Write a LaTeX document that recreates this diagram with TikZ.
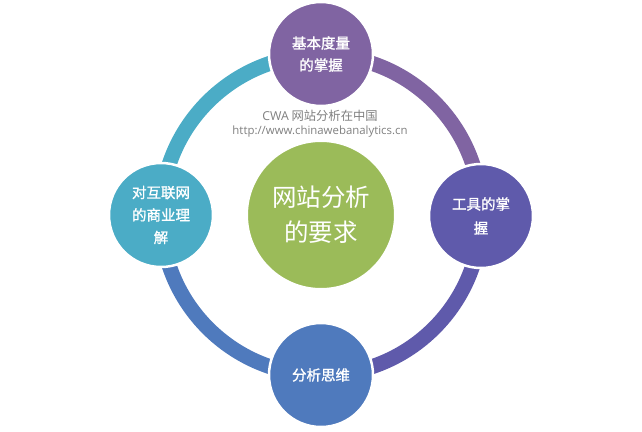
\documentclass[tikz,border=0pt]{standalone}
\usepackage{fontspec}
\setmainfont{Open Sans}
\newfontfamily\cjk{Noto Sans CJK SC}
\newfontfamily\cjkb[FakeBold=1.2]{Noto Sans CJK SC}
\definecolor{cTop}{HTML}{8064A2}
\definecolor{cRight}{HTML}{5F5AAB}
\definecolor{cBottom}{HTML}{4F7ABD}
\definecolor{cLeft}{HTML}{4BACC6}
\definecolor{cCenter}{HTML}{9BBB59}
\definecolor{cGray}{HTML}{7F7F7F}
\tikzset{
  ring/.style={line width=15pt},
  sat/.style={circle, minimum size=104pt, inner sep=0pt, draw=white, line width=2.5pt, text=white, align=center, font=\cjkb\fontsize{14.5}{22}\selectfont},
  hub/.style={circle, minimum size=148pt, inner sep=0pt, fill=cCenter, draw=white, line width=2pt, text=white, align=center, font=\cjk\fontsize{24.5}{35}\selectfont},
  note/.style={text=cGray, inner sep=0pt}
}
\begin{document}
\begin{tikzpicture}[x=1pt,y=-1pt]
\useasboundingbox (0,0) rectangle (642,431);
\coordinate (O) at (321,215);
\draw[ring, cLeft] (O) ++(180:160) arc[start angle=180, end angle=270, radius=160];
\draw[ring, cTop] (O) ++(270:160) arc[start angle=270, end angle=360, radius=160];
\draw[ring, cRight] (O) ++(0:160) arc[start angle=0, end angle=90, radius=160];
\draw[ring, cBottom] (O) ++(90:160) arc[start angle=90, end angle=180, radius=160];
\node[sat, fill=cTop] (top) at (321,54) {基本度量\\的掌握};
\node[sat, fill=cRight, font=\cjkb\fontsize{14.5}{24}\selectfont] (right) at (481,216) {工具的掌\\握};
\node[sat, fill=cBottom] (bottom) at (321,375) {分析思维};
\node[sat, fill=cLeft, font=\cjkb\fontsize{14.5}{22.5}\selectfont] (left) at (161,215) {对互联网\\的商业理\\解};
\node[hub] (hub) at (321,215) {网站分析\\的要求};
\node[note, font=\cjk\fontsize{12.3}{14}\selectfont] (n1) at (320,116) {{\fontspec{Open Sans}CWA} 网站分析在中国};
\node[note, font=\fontsize{11.4}{14}\selectfont] (n2) at (320,131.5) {http://www.chinawebanalytics.cn};
\end{tikzpicture}
\end{document}
